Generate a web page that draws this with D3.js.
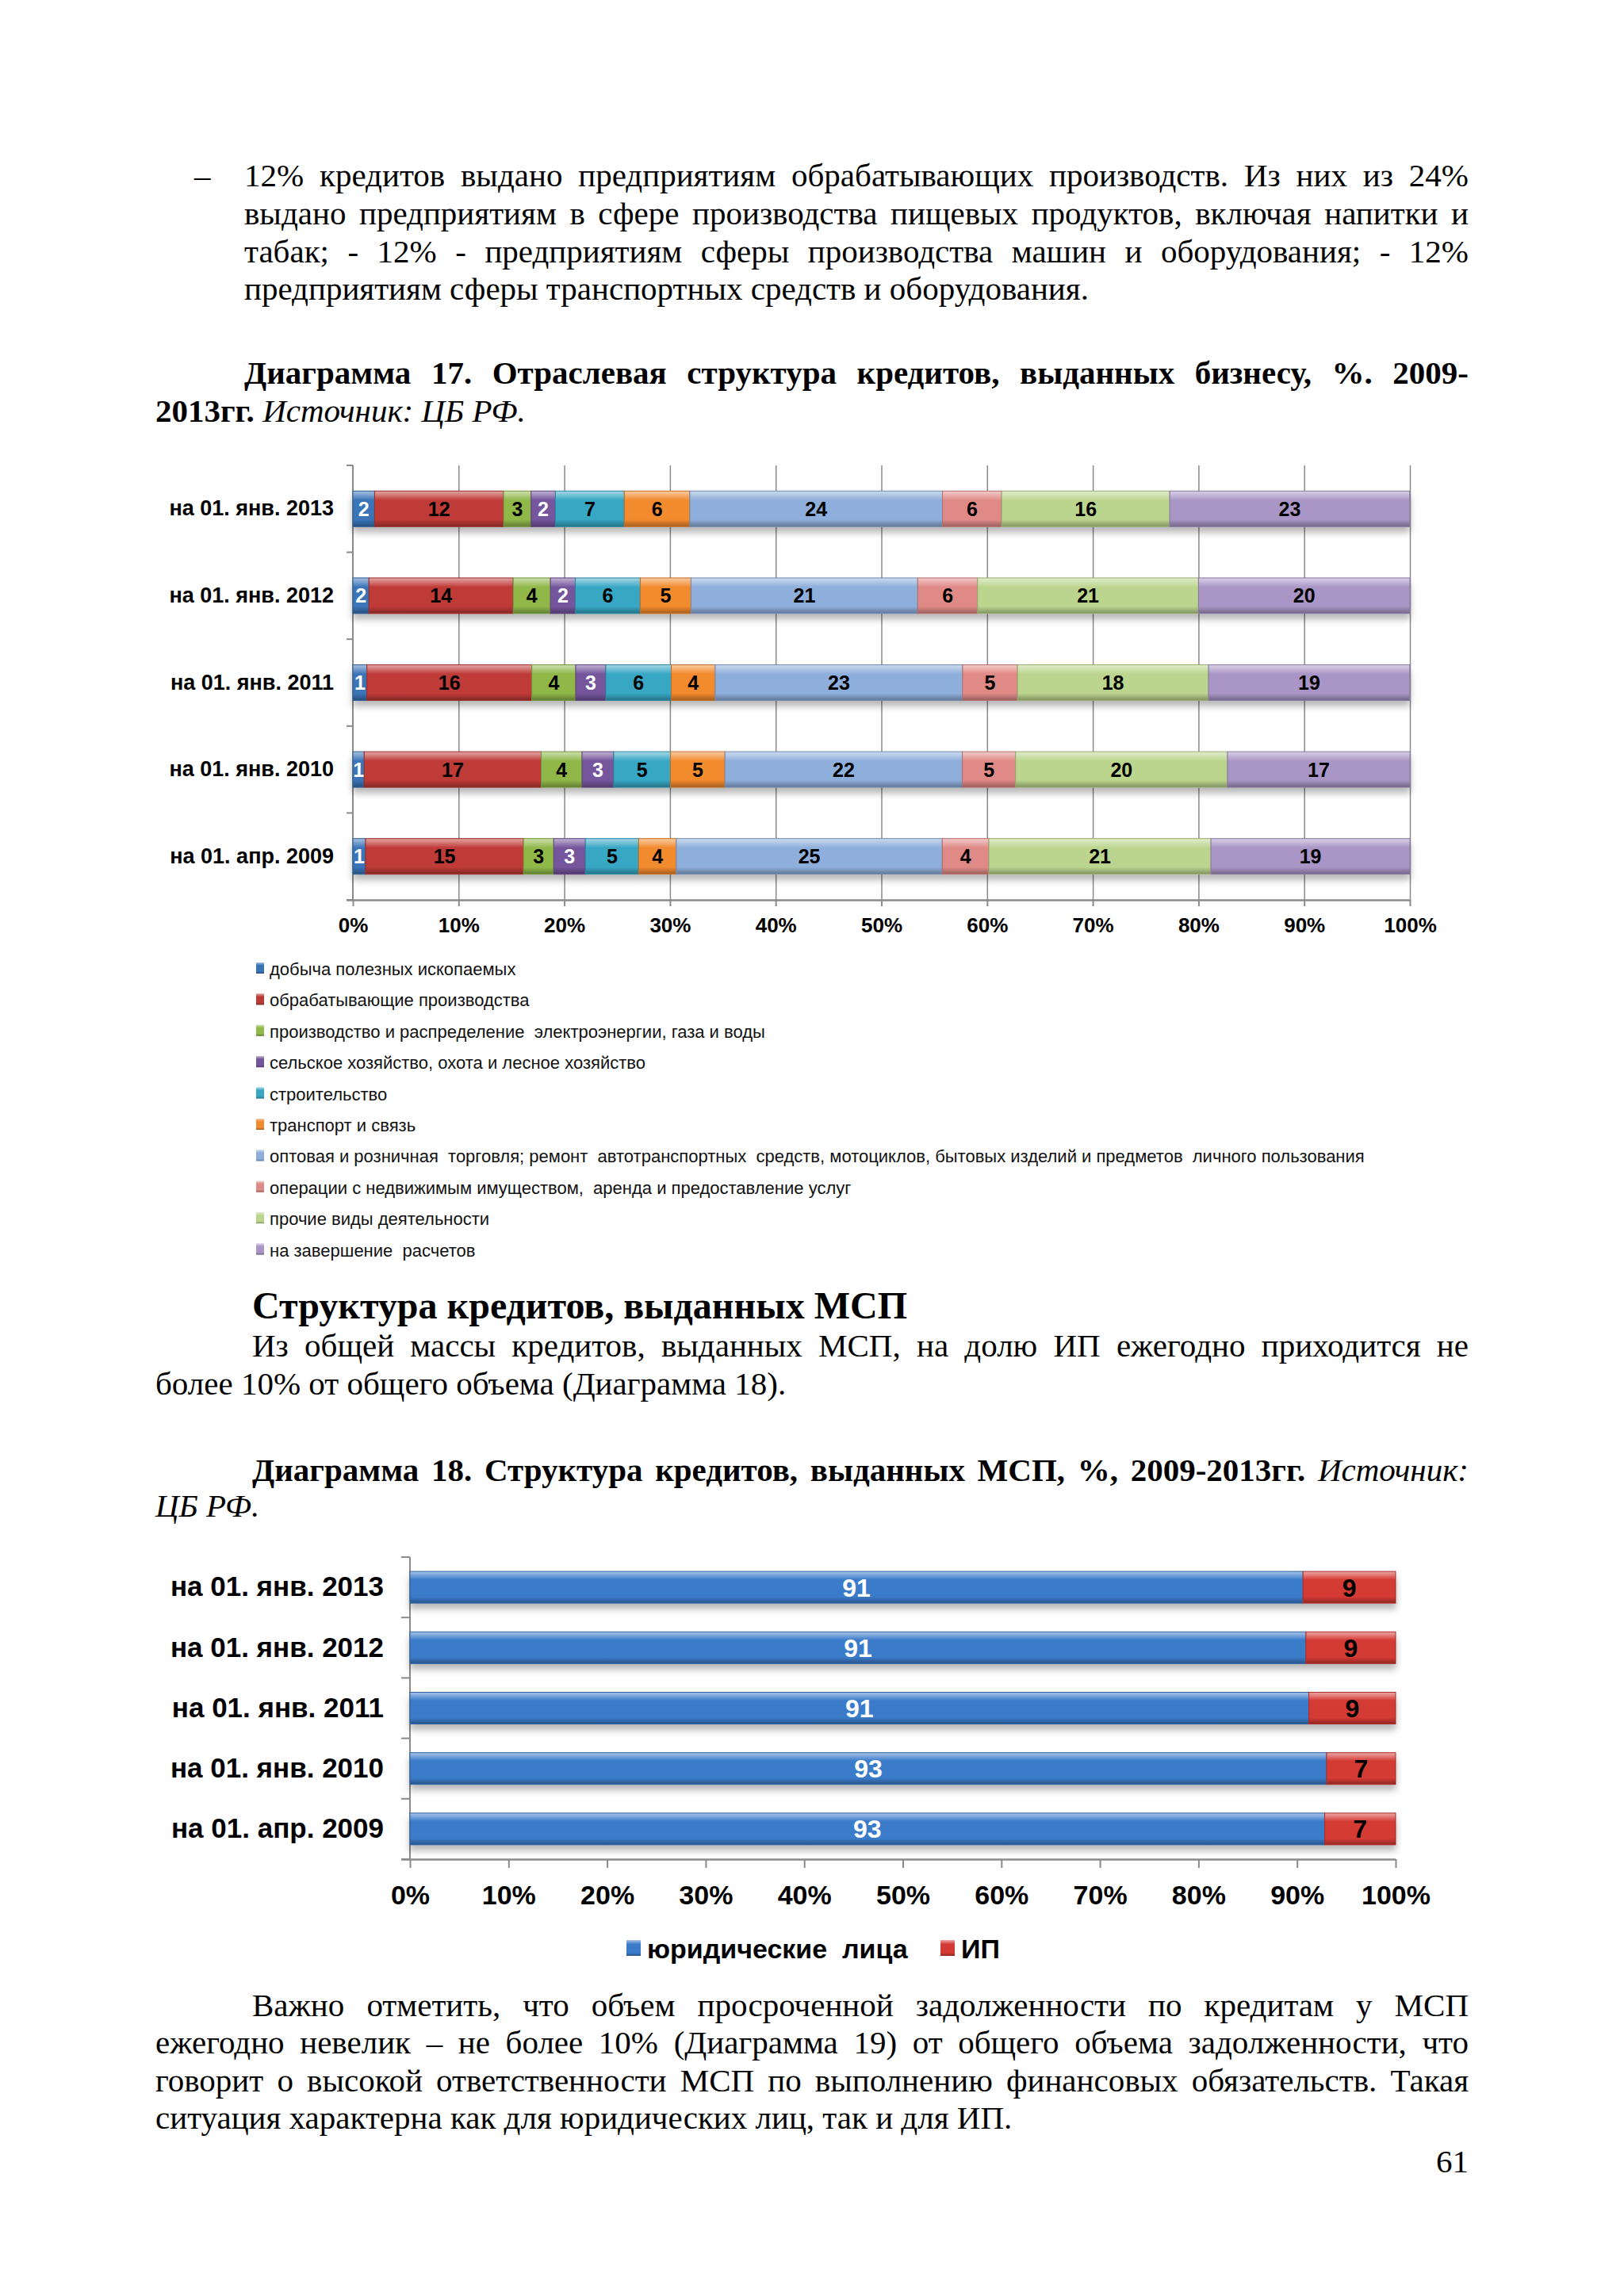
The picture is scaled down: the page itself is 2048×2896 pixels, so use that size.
<!DOCTYPE html>
<html>
<head>
<meta charset="utf-8">
<script src="https://cdn.jsdelivr.net/npm/d3@7"></script>
<style>
body { margin: 0; background: #fff; }
#page { position: relative; width: 2048px; height: 2896px; overflow: hidden; background: #fff; }
</style>
</head>
<body>
<div id="page"></div>
<script>
// ---- data: chart 17 (отраслевая структура, %) ----
const dates = ["на 01. апр. 2009", "на 01. янв. 2010", "на 01. янв. 2011", "на 01. янв. 2012", "на 01. янв. 2013"];
const sectors = [
  "добыча полезных ископаемых",
  "обрабатывающие производства",
  "производство и распределение  электроэнергии, газа и воды",
  "сельское хозяйство, охота и лесное хозяйство",
  "строительство",
  "транспорт и связь",
  "оптовая и розничная  торговля; ремонт  автотранспортных  средств, мотоциклов, бытовых изделий и предметов  личного пользования",
  "операции с недвижимым имуществом,  аренда и предоставление услуг",
  "прочие виды деятельности",
  "на завершение  расчетов"
];
const sectorColors = ["#3a74b8", "#bf3a37", "#8fb84a", "#74559c", "#37a7c4", "#f28a2e", "#8eaedb", "#e08a87", "#bcd58e", "#a996c6"];
const labelColors  = ["#fff", "#000", "#000", "#fff", "#000", "#000", "#000", "#000", "#000", "#000"];

// one array per sector, values in order of dates (2009 … 2013)
const mining        = [1.2, 1.07, 1.33, 1.52, 2.06];
const manufacturing = [14.94, 16.75, 15.6, 13.65, 12.2];
const utilities     = [2.86, 3.86, 4.15, 3.52, 2.6];
const agriculture   = [3.0, 3.0, 2.85, 2.36, 2.3];
const construction  = [5.04, 5.37, 6.2, 6.14, 6.52];
const transport     = [3.56, 5.15, 4.15, 4.8, 6.2];
const trade         = [25.16, 22.46, 23.4, 21.45, 23.9];
const realEstate    = [4.41, 5.04, 5.2, 5.66, 5.6];
const otherKinds    = [21.01, 20.04, 18.07, 20.9, 15.9];
const settlements   = [18.82, 17.27, 19.03, 20.0, 22.7];
const sectorSeries = [mining, manufacturing, utilities, agriculture, construction, transport, trade, realEstate, otherKinds, settlements];

// ---- data: chart 18 (юр. лица / ИП, %) ----
const smeKeys = ["юридические  лица", "ИП"];
const smeColors = ["#3b7bca", "#d43a35"];
const smeLabelColors = ["#fff", "#000"];
const legalEntities = [92.8, 93.0, 91.2, 90.9, 90.6];
const soleTraders   = [7.2, 7.0, 8.8, 9.1, 9.4];

const pctTicks = d3.range(0, 101, 10);

const serif = "'Liberation Serif','Times New Roman',serif";
const sans = "'Liberation Sans',Arial,sans-serif";

const svg = d3.select("#page").append("svg")
  .attr("width", 2048).attr("height", 2896)
  .attr("viewBox", [0, 0, 2048, 2896]);

const defs = svg.append("defs");
const bevel = defs.append("linearGradient").attr("id", "bevel")
  .attr("x1", 0).attr("y1", 0).attr("x2", 0).attr("y2", 1);
[[0, "#fff", 0.55], [0.1, "#fff", 0.35], [0.26, "#fff", 0], [0.8, "#000", 0], [1, "#000", 0.32]]
  .forEach(([o, c, a]) => bevel.append("stop").attr("offset", o).attr("stop-color", c).attr("stop-opacity", a));
const shadow = defs.append("filter").attr("id", "shadow")
  .attr("x", "-5%").attr("y", "-30%").attr("width", "110%").attr("height", "190%");
shadow.append("feDropShadow").attr("dx", 0).attr("dy", 7).attr("stdDeviation", 4)
  .attr("flood-color", "#000").attr("flood-opacity", 0.28);

// ---- page text ----
function line(parts, x, y, {size = 41, justifyTo = null, anchor = "start"} = {}) {
  const t = svg.append("text")
    .attr("x", x).attr("y", y)
    .attr("font-family", serif).attr("font-size", size)
    .attr("text-anchor", anchor).attr("fill", "#000")
    .style("white-space", "pre");
  parts.forEach(([s, st]) => {
    const ts = t.append("tspan").text(s);
    if (st && st.includes("b")) ts.attr("font-weight", "bold");
    if (st && st.includes("i")) ts.attr("font-style", "italic");
  });
  if (justifyTo) {
    const full = parts.map(p => p[0]).join("");
    const spaces = (full.match(/ /g) || []).length;
    const w = t.node().getComputedTextLength();
    t.style("word-spacing", ((justifyTo - x - w) / spaces) + "px");
  }
  return t;
}
const R = 1852, L = 196, IND = 318;

line([["–"]], 245, 235);
line([["12% кредитов выдано предприятиям обрабатывающих производств. Из них из 24%"]], 308, 235, {justifyTo: R});
line([["выдано предприятиям в сфере производства пищевых продуктов, включая напитки и"]], 308, 283, {justifyTo: R});
line([["табак; - 12% - предприятиям сферы производства машин и оборудования; - 12%"]], 308, 331, {justifyTo: R});
line([["предприятиям сферы транспортных средств и оборудования."]], 308, 378);

line([["Диаграмма 17. Отраслевая структура кредитов, выданных бизнесу, %. 2009-", "b"]], 308, 484, {justifyTo: R});
line([["2013гг. ", "b"], ["Источник: ЦБ РФ.", "i"]], L, 532);

line([["Структура кредитов, выданных МСП", "b"]], IND, 1663, {size: 48});
line([["Из общей массы кредитов, выданных МСП, на долю ИП ежегодно приходится не"]], IND, 1711, {justifyTo: R});
line([["более 10% от общего объема (Диаграмма 18)."]], L, 1759);

line([["Диаграмма 18. Структура кредитов, выданных МСП, %, 2009-2013гг. ", "b"], ["Источник:", "i"]], IND, 1868, {justifyTo: R});
line([["ЦБ РФ.", "i"]], L, 1913);

line([["Важно отметить, что объем просроченной задолженности по кредитам у МСП"]], IND, 2543, {justifyTo: R});
line([["ежегодно невелик – не более 10% (Диаграмма 19) от общего объема задолженности, что"]], L, 2590, {justifyTo: R});
line([["говорит о высокой ответственности МСП по выполнению финансовых обязательств. Такая"]], L, 2638, {justifyTo: R});
line([["ситуация характерна как для юридических лиц, так и для ИП."]], L, 2685);
line([["61"]], R, 2740, {anchor: "end"});

// ---- stacked 100% bar chart helper ----
function stackedBars(g, rows, keys, colors, labColors, cfg) {
  const x = d3.scaleLinear().domain([0, 100]).range([cfg.left, cfg.right]);
  const y = d3.scaleBand().domain(dates.slice().reverse())
    .range([cfg.top, cfg.bottom])
    .paddingInner(cfg.pad).paddingOuter(cfg.pad / 2);

  if (cfg.grid) {
    g.append("g")
      .attr("transform", `translate(0,${cfg.top})`)
      .call(d3.axisBottom(x).tickValues(pctTicks.slice(1)).tickSize(cfg.bottom - cfg.top).tickFormat(""))
      .call(a => a.select(".domain").remove())
      .call(a => a.selectAll("line").attr("stroke", "#8a8a8a").attr("stroke-width", 1.5));
  }

  // left axis: line + ticks at band boundaries
  const la = g.append("g").attr("stroke", "#8a8a8a").attr("stroke-width", 2);
  la.append("line").attr("x1", x(0)).attr("x2", x(0)).attr("y1", cfg.top).attr("y2", cfg.bottom);
  la.selectAll(".bt").data(d3.range(dates.length + 1)).join("line")
    .attr("x1", x(0) - cfg.tick).attr("x2", x(0))
    .attr("y1", i => cfg.top + i * y.step()).attr("y2", i => cfg.top + i * y.step());

  // category labels
  g.append("g")
    .attr("transform", `translate(${x(0)},0)`)
    .call(d3.axisLeft(y).tickSize(0).tickPadding(cfg.catPad))
    .call(a => a.select(".domain").remove())
    .call(a => a.selectAll("text")
      .attr("font-family", sans).attr("font-size", cfg.catSize)
      .attr("font-weight", "bold").attr("fill", "#000"));

  // bottom axis
  g.append("g")
    .attr("transform", `translate(0,${cfg.bottom})`)
    .call(d3.axisBottom(x).tickValues(pctTicks).tickSize(cfg.tick).tickPadding(cfg.tickPad).tickFormat(d => d + "%"))
    .call(a => a.select(".domain").attr("d", `M${x(0) - cfg.tick},0.5H${x(100)}`).attr("stroke", "#8a8a8a").attr("stroke-width", 2.5))
    .call(a => a.selectAll("line").attr("stroke", "#8a8a8a").attr("stroke-width", 2))
    .call(a => a.selectAll("text")
      .attr("font-family", sans).attr("font-size", cfg.tickSize)
      .attr("font-weight", "bold").attr("fill", "#000"));

  const series = d3.stack().keys(keys)(rows);

  const bars = g.append("g").selectAll("g.row").data(rows).join("g")
    .attr("class", "row").attr("filter", "url(#shadow)");
  bars.each(function (row, ri) {
    const rg = d3.select(this);
    series.forEach((s, si) => {
      const seg = s[ri];
      rg.append("rect")
        .attr("x", x(seg[0])).attr("y", y(row.date))
        .attr("width", x(seg[1]) - x(seg[0])).attr("height", y.bandwidth())
        .attr("fill", colors[si]);
      rg.append("rect")
        .attr("x", x(seg[0])).attr("y", y(row.date))
        .attr("width", x(seg[1]) - x(seg[0])).attr("height", y.bandwidth())
        .attr("fill", "url(#bevel)")
        .attr("stroke", d3.color(colors[si]).darker(0.6)).attr("stroke-width", 1);
    });
  });

  // value labels
  series.forEach((s, si) => {
    g.append("g").selectAll("text").data(s).join("text")
      .attr("x", d => x((d[0] + d[1]) / 2))
      .attr("y", d => y(d.data.date) + y.bandwidth() / 2)
      .attr("dy", "0.36em")
      .attr("text-anchor", "middle")
      .attr("font-family", sans).attr("font-size", cfg.valSize).attr("font-weight", "bold")
      .attr("fill", labColors[si])
      .text(d => Math.round(d[1] - d[0]));
  });
}

// ---- chart 17 ----
const rows17 = dates.map((d, i) => {
  const r = {date: d};
  sectors.forEach((k, j) => r[k] = sectorSeries[j][i]);
  return r;
});
const g17 = svg.append("g");
stackedBars(g17, rows17, sectors, sectorColors, labelColors, {
  left: 445, right: 1778, top: 587, bottom: 1135, pad: 0.59,
  grid: true, tick: 8, tickPad: 15, catPad: 24,
  catSize: 27, tickSize: 26, valSize: 25
});

const leg17 = g17.append("g").selectAll("g").data(sectors).join("g")
  .attr("transform", (d, i) => `translate(323,${1222 + i * 39.4})`);
leg17.append("rect").attr("x", 0).attr("y", -8).attr("width", 10).attr("height", 14)
  .attr("fill", (d, i) => sectorColors[i]);
leg17.append("rect").attr("x", 0).attr("y", -8).attr("width", 10).attr("height", 14)
  .attr("fill", "url(#bevel)");
leg17.append("text").attr("x", 17).attr("dy", "0.36em")
  .attr("font-family", sans).attr("font-size", 22).attr("fill", "#111")
  .style("white-space", "pre")
  .text(d => d);

// ---- chart 18 ----
const rows18 = dates.map((d, i) => ({date: d, [smeKeys[0]]: legalEntities[i], [smeKeys[1]]: soleTraders[i]}));
const g18 = svg.append("g");
stackedBars(g18, rows18, smeKeys, smeColors, smeLabelColors, {
  left: 517, right: 1760, top: 1964, bottom: 2345, pad: 0.475,
  grid: false, tick: 11, tickPad: 22, catPad: 33,
  catSize: 35, tickSize: 34, valSize: 32
});

const leg18 = g18.append("g").selectAll("g").data(smeKeys).join("g")
  .attr("transform", (d, i) => `translate(${[790, 1186][i]},2458)`);
leg18.append("rect").attr("x", 0).attr("y", -11).attr("width", 18).attr("height", 20)
  .attr("fill", (d, i) => smeColors[i]);
leg18.append("rect").attr("x", 0).attr("y", -11).attr("width", 18).attr("height", 20)
  .attr("fill", "url(#bevel)");
leg18.append("text").attr("x", 26).attr("dy", "0.36em")
  .attr("font-family", sans).attr("font-size", 34).attr("font-weight", "bold").attr("fill", "#000")
  .style("white-space", "pre")
  .text(d => d);
</script>
</body>
</html>
